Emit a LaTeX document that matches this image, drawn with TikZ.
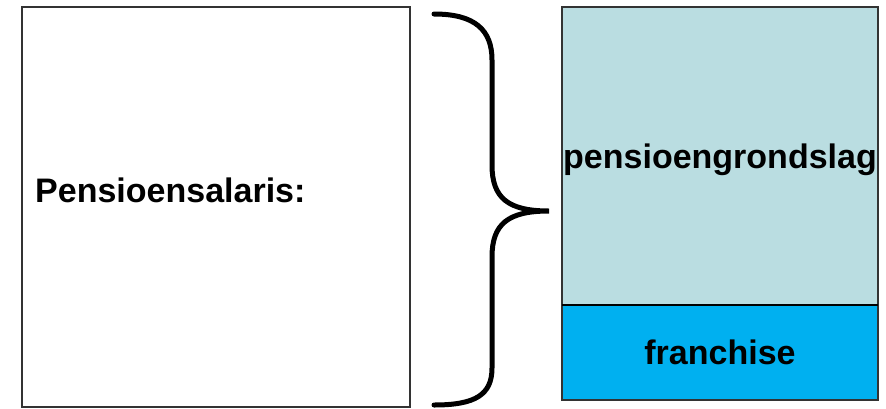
\documentclass[tikz,border=0pt]{standalone}
\usepackage{fontspec}
\setmainfont{Liberation Sans}
\definecolor{topfill}{HTML}{BADDE1}
\definecolor{botfill}{HTML}{00B0F0}
\definecolor{edge}{HTML}{333333}
\begin{document}
\begin{tikzpicture}[x=1pt,y=-1pt,
  box/.style={draw=edge,line width=1.2pt,inner sep=0pt,outer sep=0pt},
  lbl/.style={font=\fontsize{34}{40}\selectfont\bfseries,inner sep=0pt}]
\useasboundingbox (0,0) rectangle (886,408);
\node[box,fill=white,minimum width=388pt,minimum height=400pt,anchor=north west] (left) at (22,7) {};
\node[box,fill=topfill,minimum width=316pt,minimum height=298pt,anchor=north west] (top) at (562,7) {};
\node[box,fill=botfill,minimum width=316pt,minimum height=95pt,anchor=north west] (bot) at (562,305) {};
\draw[black,line width=2pt] (top.south west) -- (top.south east);
\node[lbl,anchor=base west] (t1) at (35,202) {Pensioensalaris:};
\node[lbl] (t2) at (top.center) [yshift=-4pt] {pensioengrondslag};
\node[lbl] (t3) at (bot.center) {franchise};
\draw[line width=5pt,line cap=round]
  (434,14) .. controls (475,14) and (492,30) .. (492,60) -- (492,165)
  .. controls (492,198) and (508,211) .. (549,211)
  .. controls (508,211) and (492,224) .. (492,257) -- (492,368)
  .. controls (492,395) and (475,405) .. (434,405);
\end{tikzpicture}
\end{document}
